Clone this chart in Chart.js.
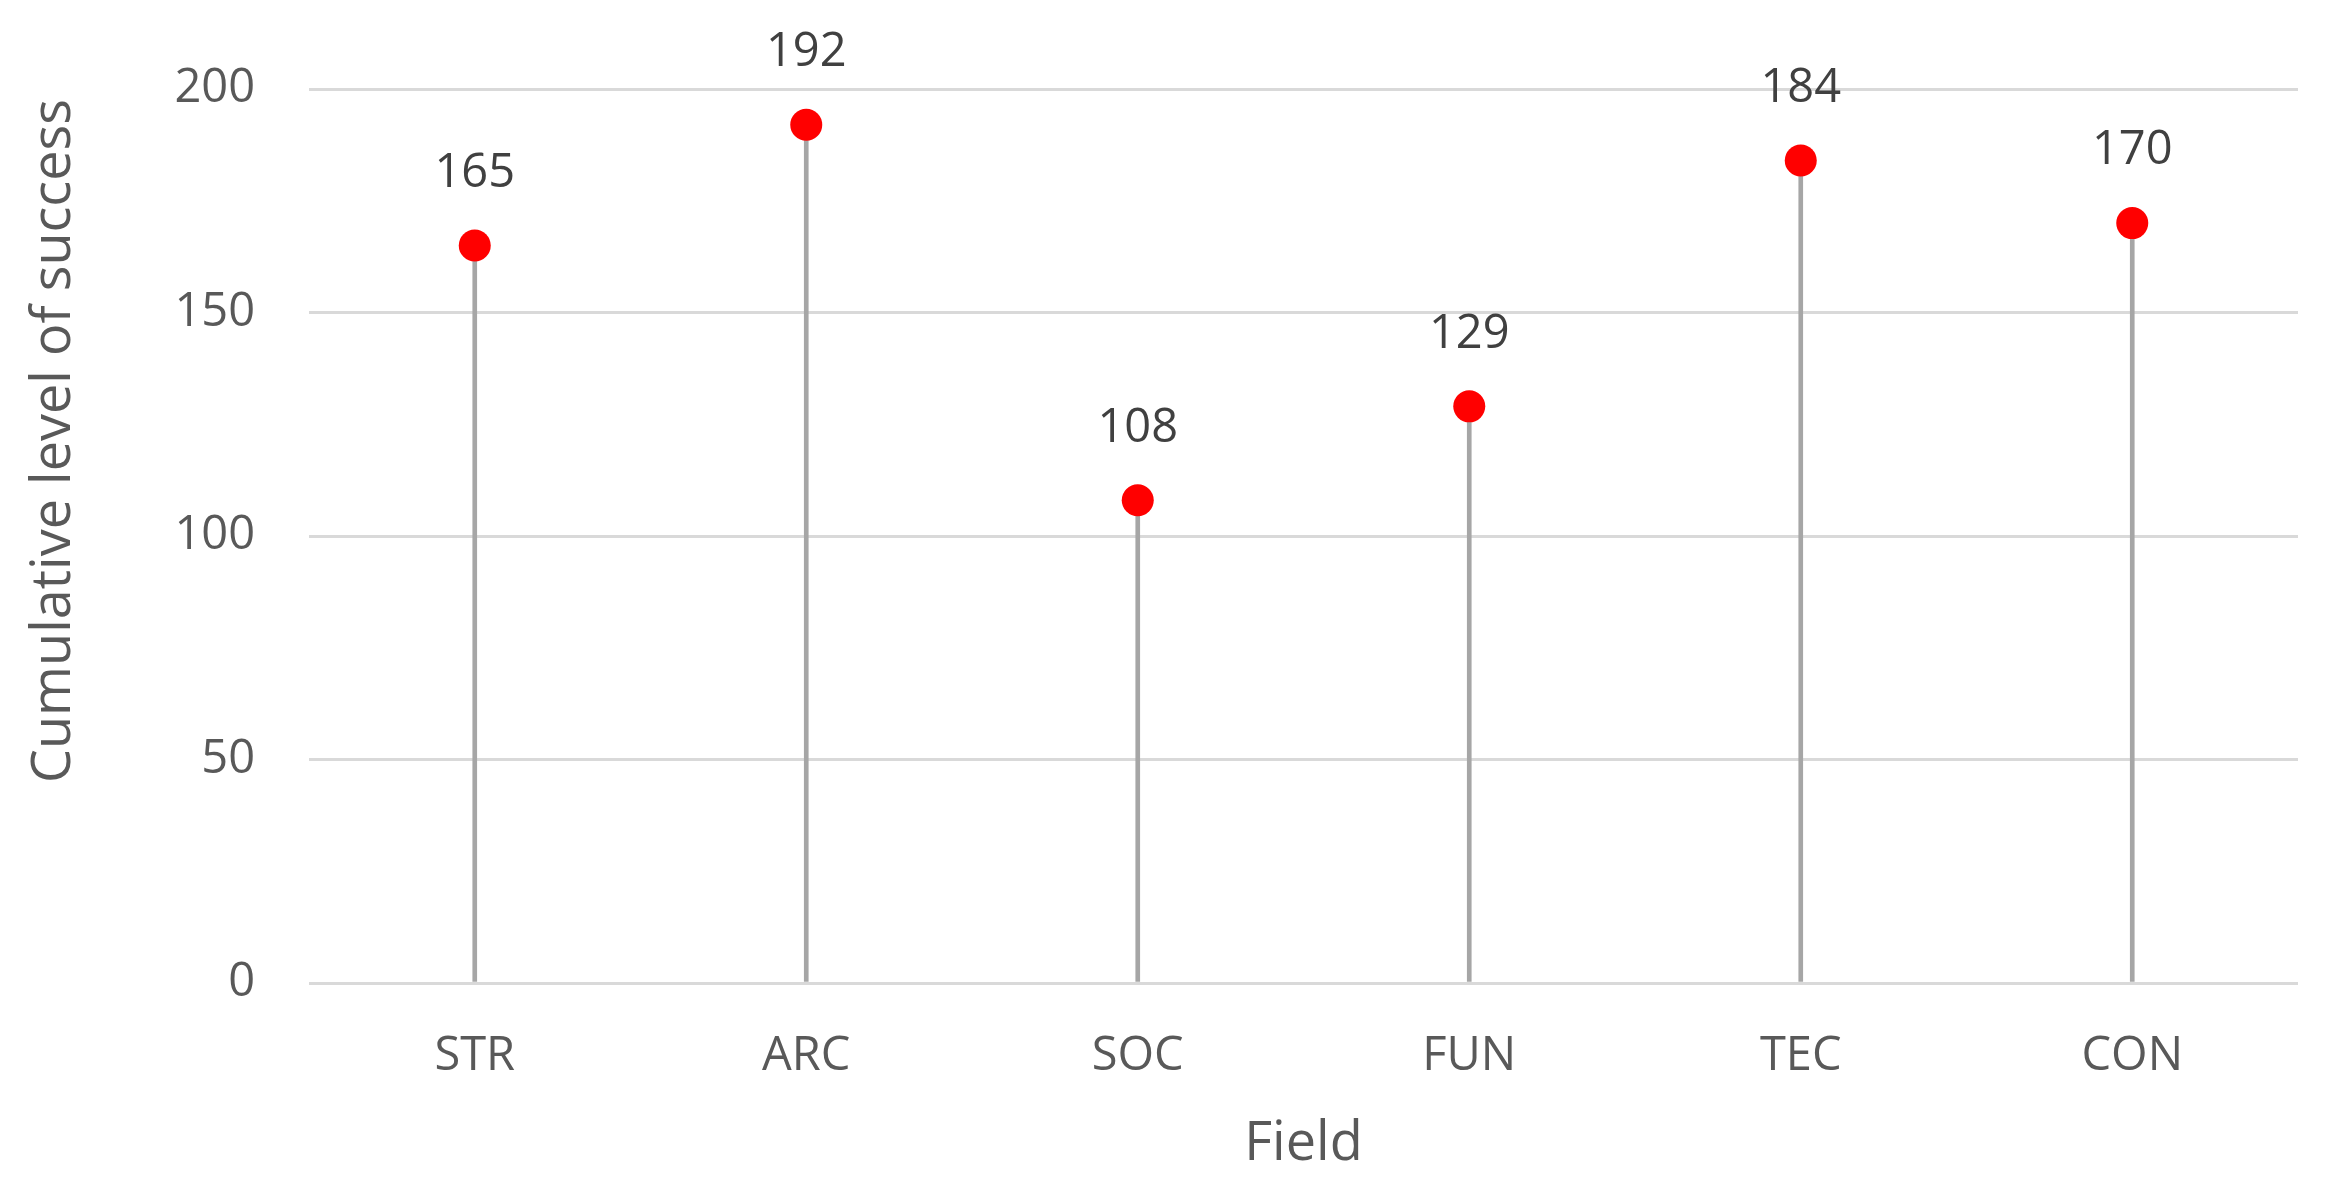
<!DOCTYPE html>
<html>
<head>
<meta charset="utf-8">
<script src="https://cdn.jsdelivr.net/npm/chart.js@4.4.1/dist/chart.umd.min.js"></script>
<style>
  html, body { margin: 0; padding: 0; background: #ffffff; }
  #wrap { width: 2328px; height: 1197px; }
</style>
</head>
<body>
<div id="wrap"><canvas id="chart" width="2328" height="1197"></canvas></div>
<script>
const categories = ['STR', 'ARC', 'SOC', 'FUN', 'TEC', 'CON'];
const successValues = [165, 192, 108, 129, 184, 170];
const yTicks = [0, 50, 100, 150, 200];

const fontFamily = '"Open Sans", "Noto Sans", Arial, sans-serif';
const tickColor = '#595959';
const gridColor = '#d9d9d9';

// Value labels above the dots.
const valueLabels = {
  id: 'valueLabels',
  afterDatasetsDraw(chart) {
    const meta = chart.getDatasetMeta(1);
    const ctx = chart.ctx;
    ctx.save();
    ctx.font = '47px ' + fontFamily;
    ctx.fillStyle = '#404040';
    ctx.textAlign = 'center';
    ctx.textBaseline = 'middle';
    meta.data.forEach((pt, i) => {
      ctx.fillText(String(successValues[i]), pt.x, pt.y - 72);
    });
    ctx.restore();
  }
};

// Y axis title, placed like the original (not centered on the plot).
const yTitle = {
  id: 'yTitle',
  afterDraw(chart) {
    const ctx = chart.ctx;
    ctx.save();
    ctx.translate(55, 441);
    ctx.rotate(-Math.PI / 2);
    ctx.font = '54px ' + fontFamily;
    ctx.fillStyle = tickColor;
    ctx.textAlign = 'center';
    ctx.textBaseline = 'middle';
    ctx.fillText('Cumulative level of success', 0, 0);
    ctx.restore();
  }
};

const config = {
  data: {
    labels: categories,
    datasets: [
      {
        type: 'bar',
        label: 'stem',
        data: successValues,
        backgroundColor: '#a6a6a6',
        borderWidth: 0,
        barThickness: 4,
        order: 2
      },
      {
        type: 'line',
        label: 'Cumulative level of success',
        data: successValues,
        showLine: false,
        pointRadius: 16,
        pointBackgroundColor: '#ff0000',
        pointBorderWidth: 0,
        order: 1
      }
    ]
  },
  options: {
    responsive: false,
    animation: false,
    devicePixelRatio: 1,
    layout: {
      padding: { top: 89, right: 30, bottom: 0, left: 0 }
    },
    plugins: {
      legend: { display: false },
      tooltip: { enabled: false }
    },
    scales: {
      x: {
        offset: true,
        grid: { display: false, drawTicks: false },
        border: { display: false },
        ticks: {
          color: tickColor,
          font: { family: fontFamily, size: 47 },
          padding: 45
        },
        title: {
          display: true,
          text: 'Field',
          color: tickColor,
          font: { family: fontFamily, size: 54 },
          padding: { top: 0, bottom: 20 }
        },
        afterFit: (scale) => { scale.height = 214; }
      },
      y: {
        min: 0,
        max: 200,
        afterBuildTicks: (scale) => {
          scale.ticks = yTicks.map(v => ({ value: v }));
        },
        grid: { color: gridColor, lineWidth: 3, drawTicks: false },
        border: { display: false },
        ticks: {
          color: tickColor,
          font: { family: fontFamily, size: 47 },
          padding: 54
        },
        afterFit: (scale) => { scale.width = 309; }
      }
    }
  },
  plugins: [valueLabels, yTitle]
};

new Chart(document.getElementById('chart'), config);
</script>
</body>
</html>
